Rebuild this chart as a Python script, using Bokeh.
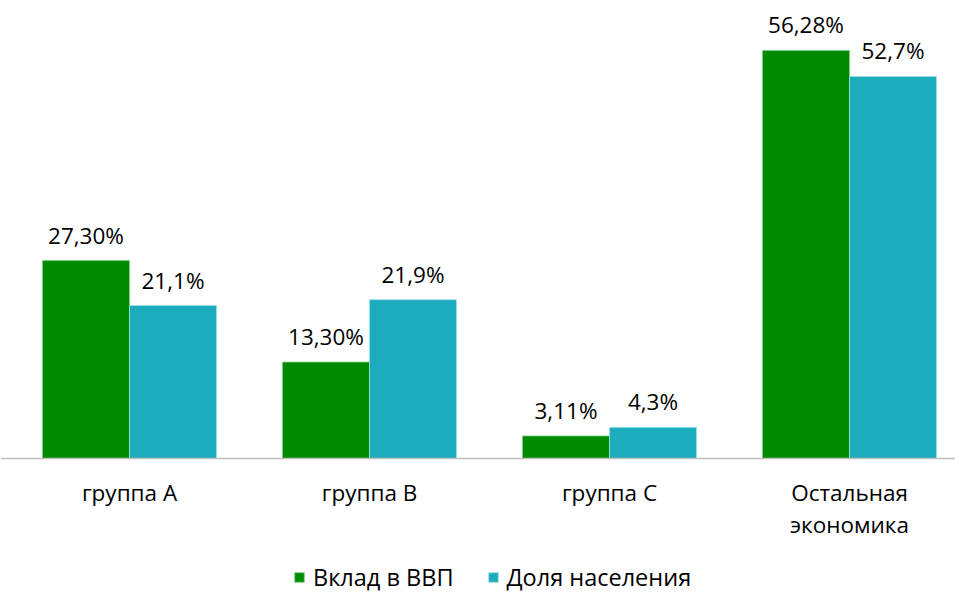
import numpy as np
from bokeh.plotting import figure
from bokeh.models import ColumnDataSource, Legend, LegendItem, Span
from bokeh.core.properties import value
from bokeh.embed import file_html
from bokeh.resources import INLINE

categories = ["группа A", "группа B", "группа C", "Остальная\nэкономика"]
gdp_share = [27.30, 13.30, 3.11, 56.28]
pop_share = [21.1, 21.9, 4.3, 52.7]
gdp_labels = ["27,30%", "13,30%", "3,11%", "56,28%"]
pop_labels = ["21,1%", "21,9%", "4,3%", "52,7%"]
series_names = ["Вклад в ВВП", "Доля населения"]
colors = ["#008A00", "#1DACBE"]

FONT = "Open Sans"
W, H = 955, 593
ppu_x = 240.0
ppu_y = 7.25
base_px = 458  # baseline distance from top of frame
x_start = 0.5 - 129 / ppu_x
x_end = x_start + W / ppu_x
y_end = base_px / ppu_y
y_start = -(H - base_px) / ppu_y

p = figure(width=W, height=H, output_backend="svg", toolbar_location=None,
           x_range=(x_start, x_end), y_range=(y_start, y_end),
           min_border=0, min_border_left=0, min_border_right=0,
           min_border_top=0, min_border_bottom=0)
p.axis.visible = False
p.grid.visible = False
p.outline_line_color = None
p.background_fill_color = "white"
p.border_fill_color = "white"

centers = np.arange(len(categories)) + 0.5
bw = 87 / ppu_x
src = ColumnDataSource(dict(
    xg=centers - bw / 2, xp=centers + bw / 2,
    g=gdp_share, pp=pop_share, gl=gdp_labels, pl=pop_labels,
    cat=categories, cx=centers, zero=[0] * len(categories)))

r1 = p.vbar(x="xg", top="g", width=bw, source=src, fill_color=colors[0],
            line_color="#7FD07F", line_width=0.8)
r2 = p.vbar(x="xp", top="pp", width=bw, source=src, fill_color=colors[1],
            line_color="#9FDDE6", line_width=0.8)

p.add_layout(Span(location=0, dimension="width", line_color="#BFBFBF", line_width=1.5))

p.text(x="xg", y="g", text="gl", source=src, text_align="center",
       text_baseline="bottom", y_offset=-10, text_font=value(FONT),
       text_font_size="22.5px", text_color="#000000")
p.text(x="xp", y="pp", text="pl", source=src, text_align="center",
       text_baseline="bottom", y_offset=-10, text_font=value(FONT),
       text_font_size="22.5px", text_color="#000000")

p.text(x="cx", y="zero", text="cat", source=src, text_align="center",
       text_baseline="top", y_offset=18, text_font=value(FONT),
       text_font_size="22.5px", text_color="#000000", text_line_height=1.05)

legend = Legend(items=[LegendItem(label=series_names[0], renderers=[r1]),
                       LegendItem(label=series_names[1], renderers=[r2])],
                orientation="horizontal", location=(293, 0),
                glyph_width=12, glyph_height=12, label_standoff=8, spacing=33,
                padding=0, margin=0, border_line_color=None,
                background_fill_alpha=0, label_text_font=FONT,
                label_text_font_size="23.5px", label_text_color="#000000",
                label_height=18)
p.add_layout(legend)

open("out.html", "w").write(file_html(p, INLINE))
